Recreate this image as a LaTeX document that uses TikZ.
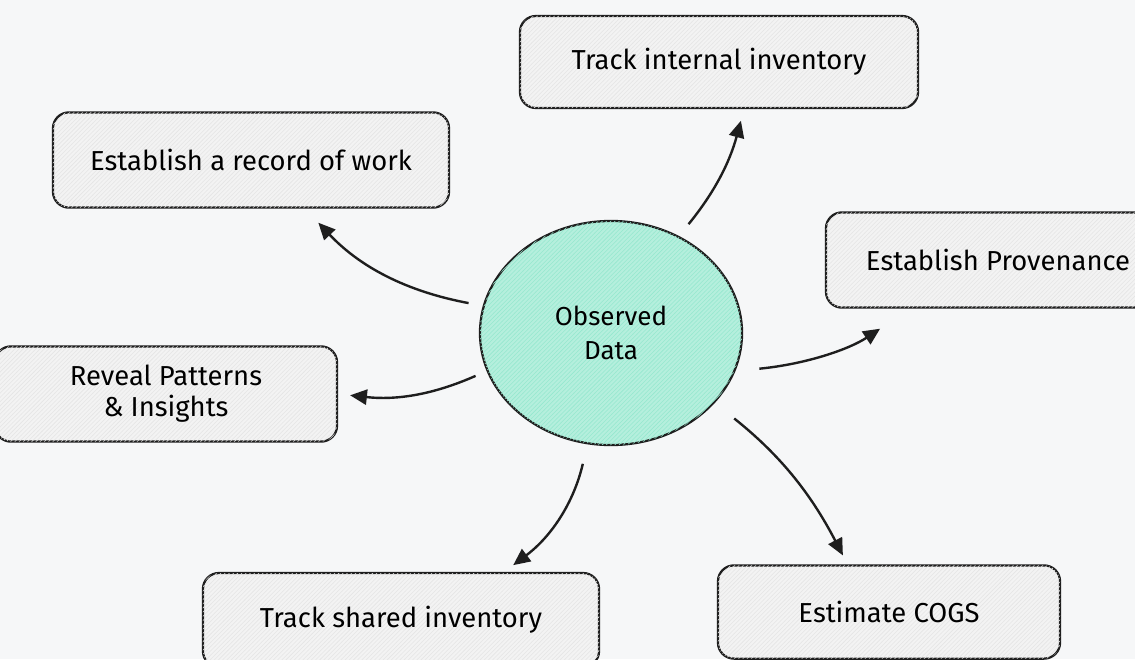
\documentclass[tikz,border=0pt]{standalone}
\usepackage{fontspec}
\setmainfont{Fira Sans}
\usetikzlibrary{shapes.geometric,arrows.meta,patterns}
\definecolor{inkline}{HTML}{1E1E1E}
\definecolor{boxfill}{HTML}{F3F3F3}
\definecolor{mint}{HTML}{96E8CF}
\definecolor{canvas}{HTML}{F6F7F8}

\begin{document}
\begin{tikzpicture}[
    x=0.025cm, y=-0.025cm,
    box/.style={rectangle, draw=inkline, line width=1.6pt, rounded corners=0.4cm, align=center, font=\fontsize{19.5}{22}\selectfont, fill=boxfill, postaction={pattern=north east lines, pattern color=black!10}},
    core/.style={ellipse, draw=inkline, line width=1.6pt, align=center, minimum width=6.55cm, minimum height=5.6cm, font=\fontsize{18.5}{24}\selectfont, fill=mint!70!white, postaction={pattern=north east lines, pattern color=mint}},
    arrow/.style={-{Triangle[length=0.42cm,width=0.38cm]}, line width=1.7pt, color=inkline}
]

    % Canvas
    \clip (0,0) rectangle (1135,659);
    \fill[canvas] (0,0) rectangle (1135,659);

    % Nodes
    \node[core] (obs) at (611,333) {Observed\\Data};
    \node[box, minimum width=9.95cm, minimum height=2.3cm] (internal) at (719,62) {Track internal inventory};
    \node[box, minimum width=9.9cm, minimum height=2.38cm] (record) at (251,160) {Establish a record of work};
    \node[box, minimum width=8.6cm, minimum height=2.38cm] (provenance) at (998,260) {Establish Provenance};
    \node[box, minimum width=8.55cm, minimum height=2.38cm] (reveal) at (166,394) {Reveal Patterns\\\& Insights};
    \node[box, minimum width=9.9cm, minimum height=2.35cm] (shared) at (401,620) {Track shared inventory};
    \node[box, minimum width=8.55cm, minimum height=2.33cm] (cogs) at (889,612) {Estimate COGS};

    % Arrows
    \draw[arrow, shorten <=0.38cm, shorten >=0.3cm] (obs.55) to[bend right=12] (internal.-62);
    \draw[arrow, shorten <=0.36cm, shorten >=0.48cm] (obs.168) to[bend left=18] (record.-42);
    \draw[arrow, shorten <=0.6cm, shorten >=0.9cm] (obs.-17) to[bend right=14] (provenance.209);
    \draw[arrow, shorten <=0.3cm, shorten >=0.3cm] (obs.197) to[bend left=15] (reveal.east);
    \draw[arrow, shorten <=0.5cm, shorten >=0.28cm] (obs.258) to[bend left=20] (shared.25);
    \draw[arrow, shorten <=0.62cm, shorten >=0.25cm] (obs.-34) to[bend left=12] (cogs.131);

\end{tikzpicture}
\end{document}
